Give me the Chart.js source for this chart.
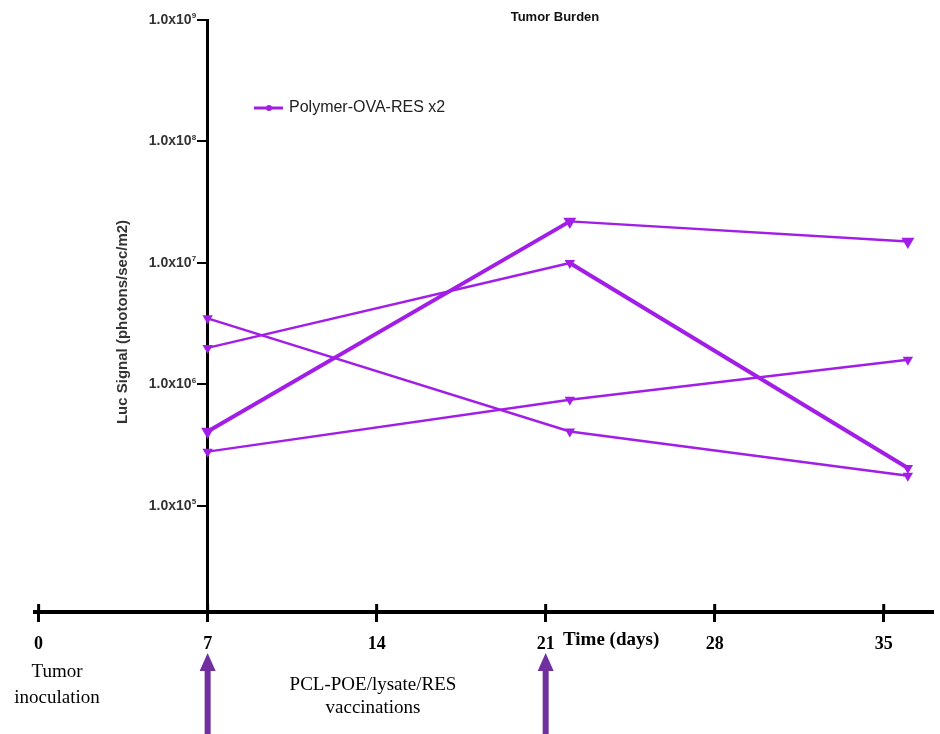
<!DOCTYPE html>
<html>
<head>
<meta charset="utf-8">
<script src="https://cdn.jsdelivr.net/npm/chart.js@4.4.1/dist/chart.umd.min.js"></script>
<style>
  html, body { margin: 0; padding: 0; background: #fff; }
  #wrap { width: 940px; height: 734px; }
</style>
</head>
<body>
<div id="wrap"><canvas id="c"></canvas></div>
<script>
// imaging days
const days = [7, 22, 36];
// luc signal per mouse (photons/sec/m2)
const mouse1 = [4.1e5, 2.2e7, 1.5e7];
const mouse2 = [2.0e6, 1.0e7, 2.05e5];
const mouse3 = [3.5e6, 4.1e5, 1.77e5];
const mouse4 = [2.8e5, 7.5e5, 1.6e6];
const xTicks = [0, 7, 14, 21, 28, 35];
const yTicks = [1e5, 1e6, 1e7, 1e8, 1e9];
const seriesLabel = 'Polymer-OVA-RES x2';
const vaccineDays = [7, 21];

const purple = '#a21ee6';

function ds(vals, w1, w2) {
  return {
    label: seriesLabel,
    data: days.map((d, i) => ({ x: d, y: vals[i] })),
    borderColor: purple,
    backgroundColor: purple,
    borderWidth: w1,
    segment: { borderWidth: ctx => ctx.p0DataIndex === 0 ? w1 : w2 },
    pointStyle: 'triangle',
    rotation: 180,
    pointRadius: 3.5,
    tension: 0
  };
}

// extra drawing: y tick labels, titles, legend, arrows, notes under the time axis
const extras = {
  id: 'extras',
  afterDraw(chart) {
    const ctx = chart.ctx;
    const xs = chart.scales.x;
    const ys = chart.scales.y;
    const area = chart.chartArea;
    const axisX = xs.getPixelForValue(7);
    ctx.save();

    // upward half of the x ticks
    ctx.strokeStyle = '#000';
    ctx.lineWidth = 3;
    xTicks.forEach(t => {
      const px = xs.getPixelForValue(t);
      ctx.beginPath();
      ctx.moveTo(px, area.bottom - 8);
      ctx.lineTo(px, area.bottom);
      ctx.stroke();
    });

    // y tick labels "1.0x10^n"
    ctx.fillStyle = '#333';
    ctx.textBaseline = 'middle';
    yTicks.forEach(v => {
      const py = ys.getPixelForValue(v);
      const exp = String(Math.round(Math.log10(v)));
      const right = axisX - 16;
      ctx.font = 'bold 8px "Liberation Sans", Arial, sans-serif';
      ctx.textAlign = 'left';
      ctx.fillText(exp, right, py - 4);
      ctx.font = 'bold 14px "Liberation Sans", Arial, sans-serif';
      ctx.textAlign = 'right';
      ctx.fillText('1.0x10', right, py);
    });

    // chart title
    ctx.fillStyle = '#111';
    ctx.font = 'bold 13px "Liberation Sans", Arial, sans-serif';
    ctx.textAlign = 'center';
    ctx.fillText('Tumor Burden', 555, 17);

    // y title
    ctx.save();
    ctx.translate(123, 322);
    ctx.rotate(-Math.PI / 2);
    ctx.fillStyle = '#333';
    ctx.font = 'bold 15px "Liberation Sans", Arial, sans-serif';
    ctx.fillText('Luc Signal (photons/sec/m2)', 0, 0);
    ctx.restore();

    // legend
    const d0 = chart.data.datasets[0];
    ctx.strokeStyle = d0.borderColor;
    ctx.lineWidth = 3;
    ctx.beginPath();
    ctx.moveTo(254, 108);
    ctx.lineTo(283, 108);
    ctx.stroke();
    ctx.fillStyle = d0.borderColor;
    ctx.beginPath();
    ctx.arc(269, 108, 3, 0, Math.PI * 2);
    ctx.fill();
    ctx.fillStyle = '#222';
    ctx.font = '16px "Liberation Sans", Arial, sans-serif';
    ctx.textAlign = 'left';
    ctx.fillText(d0.label, 289, 108);

    // x title and notes
    ctx.fillStyle = '#000';
    ctx.font = 'bold 19px "Liberation Serif", "Times New Roman", serif';
    ctx.fillText('Time (days)', 563, 640);
    ctx.textAlign = 'center';
    ctx.font = '19px "Liberation Serif", "Times New Roman", serif';
    ctx.fillText('Tumor', 57, 672);
    ctx.fillText('inoculation', 57, 698);
    ctx.fillText('PCL-POE/lysate/RES', 373, 685);
    ctx.fillText('vaccinations', 373, 708);

    // vaccination arrows
    ctx.fillStyle = '#7030a0';
    vaccineDays.forEach(d => {
      const px = xs.getPixelForValue(d);
      ctx.beginPath();
      ctx.moveTo(px, 653);
      ctx.lineTo(px + 8, 671);
      ctx.lineTo(px + 3, 671);
      ctx.lineTo(px + 3, 734);
      ctx.lineTo(px - 3, 734);
      ctx.lineTo(px - 3, 671);
      ctx.lineTo(px - 8, 671);
      ctx.closePath();
      ctx.fill();
    });
    ctx.restore();
  }
};

new Chart(document.getElementById('c'), {
  type: 'line',
  data: {
    datasets: [
      ds(mouse1, 4, 2.5),
      ds(mouse2, 2.5, 4),
      ds(mouse3, 2.5, 2.5),
      ds(mouse4, 2.5, 2.5)
    ]
  },
  options: {
    responsive: true,
    maintainAspectRatio: false,
    animation: false,
    devicePixelRatio: 1,
    layout: { padding: { left: 35, right: 5, top: 20, bottom: 0 } },
    plugins: {
      legend: { display: false },
      title: { display: false },
      tooltip: { enabled: false }
    },
    scales: {
      x: {
        type: 'linear',
        position: 'bottom',
        min: -0.15,
        max: 37,
        afterBuildTicks: s => { s.ticks = xTicks.map(v => ({ value: v })); },
        afterFit: s => { s.height = 122; },
        border: { color: '#000', width: 4 },
        grid: { drawOnChartArea: false, color: '#000', lineWidth: 3, tickLength: 10 },
        ticks: {
          color: '#000',
          padding: 12,
          maxRotation: 0,
          font: { family: '"Liberation Serif", "Times New Roman", serif', size: 18, weight: 'bold' }
        }
      },
      y: {
        type: 'logarithmic',
        position: { x: 7 },
        min: 1.34e4,
        max: 1e9,
        afterBuildTicks: s => { s.ticks = yTicks.map(v => ({ value: v })); },
        border: { color: '#000', width: 3 },
        grid: { drawOnChartArea: false, color: '#000', lineWidth: 2, tickLength: 9 },
        ticks: { display: false }
      }
    }
  },
  plugins: [extras]
});
</script>
</body>
</html>
